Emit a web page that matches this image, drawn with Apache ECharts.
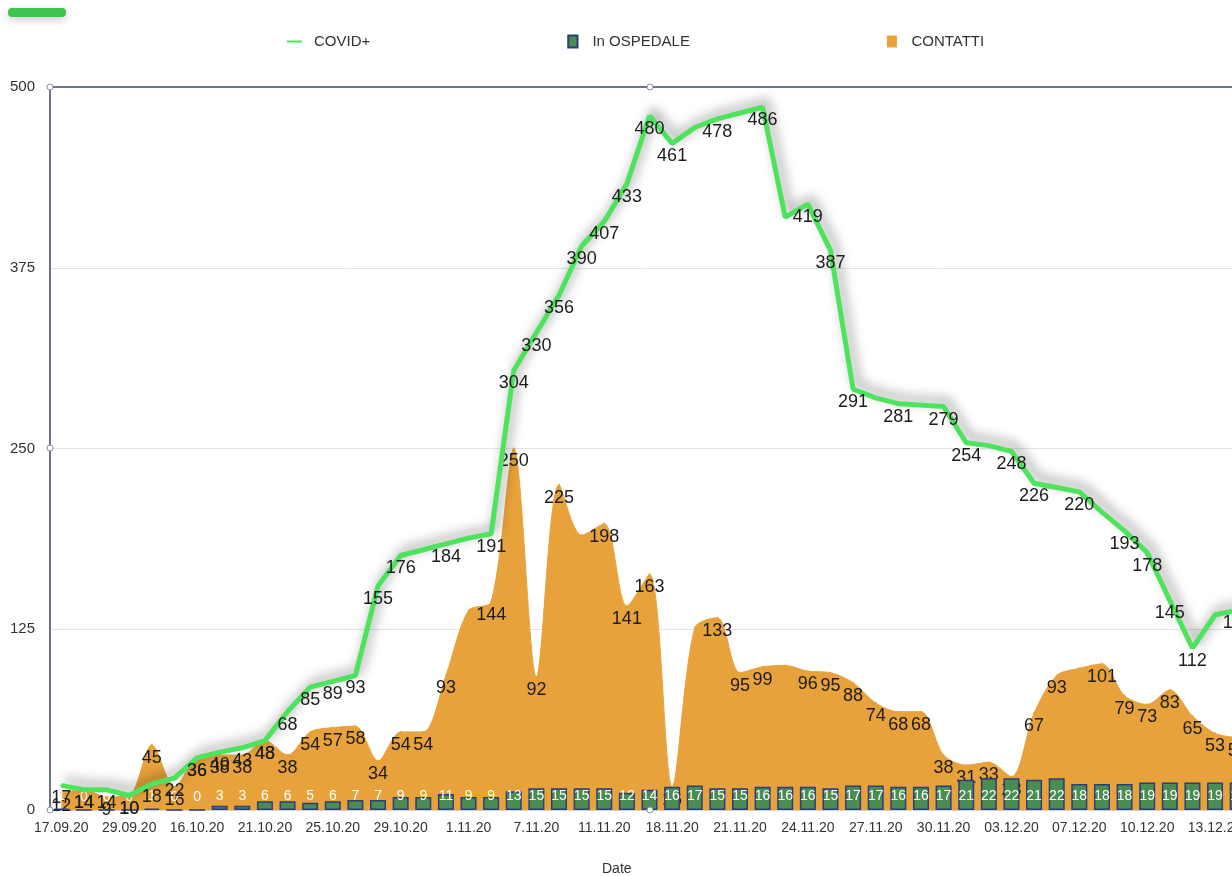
<!DOCTYPE html>
<html><head><meta charset="utf-8">
<script src="https://cdn.jsdelivr.net/npm/echarts@6/dist/echarts.min.js"></script>
<style>html,body{margin:0;padding:0;background:#fff}#c{width:1232px;height:876px}</style>
</head><body><div id="c"></div>
<script>
// Categories (every 3rd is labelled on the axis)
const dates = ['17.09.20','21.09.20','25.09.20','29.09.20','03.10.20','10.10.20','16.10.20','18.10.20','20.10.20',
  '21.10.20','22.10.20','24.10.20','25.10.20','27.10.20','28.10.20','29.10.20','30.10.20','31.10.20',
  '1.11.20','3.11.20','5.11.20','7.11.20','9.11.20','10.11.20','11.11.20','13.11.20','16.11.20',
  '18.11.20','19.11.20','20.11.20','21.11.20','22.11.20','23.11.20','24.11.20','25.11.20','26.11.20',
  '27.11.20','28.11.20','29.11.20','30.11.20','01.12.20','02.12.20','03.12.20','04.12.20','05.12.20',
  '07.12.20','08.12.20','09.12.20','10.12.20','11.12.20','12.12.20','13.12.20','14.12.20'];
const covid = [17,14,14,10,18,22,36,40,43,48,68,85,89,93,155,176,180,184,188,191,304,330,356,390,407,433,480,461,472,478,482,486,410,419,387,291,285,281,280,279,254,252,248,226,223,220,206,193,178,145,112,135,138];
const ospedale = [1,0,0,0,1,0,0,3,3,6,6,5,6,7,7,9,9,11,9,9,13,15,15,15,15,12,14,16,17,15,15,16,16,16,15,17,17,16,16,17,21,22,22,21,22,18,18,18,19,19,19,19,19];
const contatti = [12,14,9,10,45,16,36,38,38,48,38,54,57,58,34,54,54,93,138,144,250,92,225,190,198,141,163,16,126,133,95,99,100,96,95,88,74,68,68,38,31,33,23,67,93,98,101,79,73,83,65,53,50];
const covidHiddenLabels = [16,18,28,30,32,36,38,41,44,46,51];
const contattiHiddenLabels = [18,23,28,32,45];
const yMin = 0, yMax = 500, yStep = 125;

const FONT = '"Liberation Sans", Arial, Helvetica, sans-serif';
function items(vals, hidden) {
  return vals.map((v, i) => hidden.includes(i) ? { value: v, label: { show: false } } : v);
}
const chart = echarts.init(document.getElementById('c'));
const option = {
  animation: false,
  textStyle: { fontFamily: FONT },
  title: { text: 'Date', left: 597, top: 857, textStyle: { fontSize: 14, fontWeight: 'normal', color: '#333', fontFamily: FONT } },
  legend: {
    left: 282, top: 29, itemGap: 197, itemWidth: 15, itemHeight: 12,
    textStyle: { fontSize: 15, color: '#333', padding: [0, 0, 0, 7] },
    itemStyle: { shadowBlur: 0 }, lineStyle: { shadowBlur: 0 },
    data: [
      { name: 'COVID+', icon: 'path://M0,0L15,0L15,2L0,2Z' },
      { name: 'In OSPEDALE', icon: 'path://M0,0L10,0L10,13L0,13Z' },
      { name: 'CONTATTI', icon: 'path://M0,0L10,0L10,12L0,12Z' }
    ]
  },
  grid: { left: 50, right: -17, top: 87, bottom: 66, outerBoundsMode: 'none', containLabel: false },
  xAxis: [
    { type: 'category', data: dates, boundaryGap: true,
      axisLine: { lineStyle: { color: '#cfd3dc', width: 1 } }, axisTick: { show: false },
      axisLabel: { interval: 2, fontSize: 14, color: '#333', margin: 11 } },
    { type: 'category', data: dates, position: 'top',
      axisLine: { lineStyle: { color: '#6e7385', width: 2 } }, axisTick: { show: false }, axisLabel: { show: false } }
  ],
  yAxis: {
    type: 'value', min: yMin, max: yMax, interval: yStep,
    axisLine: { show: true, lineStyle: { color: '#6e7385', width: 2 } }, axisTick: { show: false },
    axisLabel: { fontSize: 15, color: '#333', margin: 15 },
    splitLine: { lineStyle: { color: '#e3e3e3' } }
  },
  series: [
    { name: 'CONTATTI', type: 'line', data: items(contatti, contattiHiddenLabels), smooth: 0.3,
      symbol: 'circle', symbolSize: 2, showAllSymbol: true, z: 1,
      lineStyle: { color: '#e8a23b', width: 1 }, itemStyle: { color: '#e8a23b' },
      areaStyle: { color: '#e8a23b', opacity: 1 },
      label: { show: true, position: 'bottom', distance: 3, fontSize: 18, color: '#1c1c1c' } },
    { name: 'In OSPEDALE', type: 'bar', data: ospedale, barWidth: 16, z: 2,
      itemStyle: { color: '#4a8c52', borderColor: '#2b3d7a', borderWidth: 1.5 },
      label: { show: true, position: 'insideBottom', distance: 7, color: '#fff', fontSize: 14, textBorderWidth: 0 } },
    { name: 'COVID+', type: 'line', data: items(covid, covidHiddenLabels),
      symbol: 'circle', symbolSize: 2, showAllSymbol: true, z: 3,
      lineStyle: { color: '#4ee35c', width: 5, shadowColor: 'rgba(0,0,0,0.45)', shadowBlur: 12, shadowOffsetX: 4, shadowOffsetY: -5 },
      itemStyle: { color: '#4ee35c' },
      label: { show: true, position: 'bottom', distance: 3, fontSize: 18, color: '#1c1c1c' } }
  ],
  graphic: [
    { type: 'rect', shape: { x: 8, y: 8, width: 58, height: 9, r: 4 },
      style: { fill: '#3cc54c', shadowBlur: 8, shadowColor: 'rgba(0,0,0,0.2)', shadowOffsetY: 3 } },
    { type: 'circle', shape: { cx: 50, cy: 87, r: 3 }, style: { fill: '#fff', stroke: '#8a8fa0', lineWidth: 1 }, z: 100 },
    { type: 'circle', shape: { cx: 650, cy: 87, r: 3 }, style: { fill: '#fff', stroke: '#8a8fa0', lineWidth: 1 }, z: 100 },
    { type: 'circle', shape: { cx: 50, cy: 448, r: 3 }, style: { fill: '#fff', stroke: '#8a8fa0', lineWidth: 1 }, z: 100 },
    { type: 'circle', shape: { cx: 50, cy: 810, r: 3 }, style: { fill: '#fff', stroke: '#8a8fa0', lineWidth: 1 }, z: 100 },
    { type: 'circle', shape: { cx: 650, cy: 810, r: 3 }, style: { fill: '#fff', stroke: '#8a8fa0', lineWidth: 1 }, z: 100 }
  ]
};
chart.setOption(option);
</script>
</body></html>
